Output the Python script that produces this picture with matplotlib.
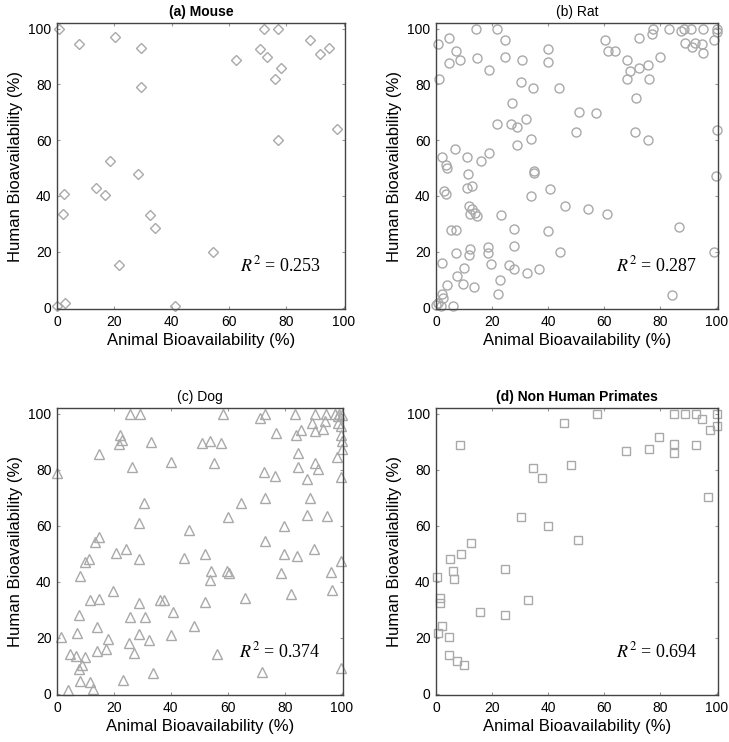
import matplotlib.pyplot as plt

plt.rcParams['font.family'] = ['Liberation Sans', 'DejaVu Sans']
plt.rcParams['mathtext.fontset'] = 'stix'

# (a) Mouse
mouse_x = [0.7, 7.6, 20.4, 29.3, 29.2, 2.3, 2.1, 2.9, 0.1, 13.7, 16.6, 18.5, 28.3, 32.3, 34.1,
           21.5, 41.1, 54.5, 62.3, 70.7, 72.3, 73.4, 77.2, 76.1, 78.2, 77.2, 88.4, 91.8, 94.8, 97.7]
mouse_y = [100, 94.6, 97.0, 93.2, 78.9, 40.7, 33.6, 1.8, 0.6, 42.7, 40.2, 52.7, 47.9, 33.3, 28.7,
           15.2, 0.6, 19.9, 88.9, 92.6, 100, 89.9, 100, 82.0, 86.0, 59.9, 95.8, 91.0, 92.9, 63.9]

# (b) Rat
rat_x = [0.8, 4.6, 1.2, 4.8, 7.1, 8.7, 14.1, 14.6, 18.9, 21.9, 24.7, 24.7, 30.6, 30.3, 34.7,
         27.1, 21.6, 26.8, 28.7, 31.9, 33.8, 28.7, 43.8, 40.0, 40.0, 51.0, 56.9, 49.9, 60.2, 61.4,
         63.8, 67.9, 67.9, 69.1, 72.4, 72.2, 71.3, 71.0, 75.5, 79.8, 75.9, 77.4, 77.0, 83.0, 87.2,
         88.4, 90.9, 95.2, 100, 100, 88.7, 92.3, 91.1, 94.7, 95.2, 99.0, 100, 75.7, 99.8, 99.0,
         84.0, 86.5,
         2.0, 6.9, 3.6, 3.8, 10.9, 11.5, 12.7, 10.9, 19.0, 15.9, 2.9, 3.6, 5.5, 7.1, 11.6,
         12.7, 13.9, 14.5, 12.0, 23.0, 34.9, 35.0, 33.8, 40.7, 45.8, 54.2, 60.9, 40.0, 27.8, 27.7,
         7.0, 12.2, 11.9, 18.6, 18.6, 19.7, 9.9, 13.5, 9.7, 4.0, 2.1, 7.6, 26.1, 27.8, 32.3,
         36.8, 44.2, 22.9, 22.1, 2.1, 2.6, 0.6, 1.9, 6.2, 0.0]
rat_y = [94.6, 96.8, 82.1, 87.5, 92.0, 88.9, 100, 89.3, 85.1, 100, 95.8, 89.9, 88.9, 80.8, 78.8,
         73.5, 65.8, 65.8, 64.8, 67.7, 60.4, 58.1, 78.7, 92.7, 88.1, 70.2, 69.9, 62.9, 95.8, 92.0,
         92.0, 88.9, 81.9, 84.9, 86.0, 96.8, 75.1, 62.9, 86.9, 89.9, 81.9, 100, 98.2, 100, 99.2,
         100, 100, 100, 100, 98.6, 94.8, 95.0, 93.3, 94.3, 91.1, 95.8, 63.8, 59.9, 47.0, 19.9,
         4.5, 28.8,
         53.9, 56.8, 51.2, 50.0, 53.8, 47.9, 43.5, 42.9, 55.4, 52.7, 41.7, 40.7, 27.7, 27.7, 36.3,
         35.4, 33.8, 32.7, 33.6, 33.1, 48.8, 48.2, 40.1, 42.5, 36.5, 35.5, 33.7, 27.4, 28.2, 21.9,
         19.6, 21.0, 18.8, 21.8, 19.6, 15.5, 14.3, 7.5, 8.3, 8.1, 16.1, 11.5, 15.1, 13.8, 12.3,
         13.7, 19.9, 9.8, 5.0, 4.8, 3.6, 1.5, 0.4, 0.4, 0.8]

# (c) Dog
dog_x = [0, 1.5, 3.9, 4.5, 6.6, 6.9, 7.8, 8.0, 7.8, 8.0, 8.9, 9.8, 9.7, 11.1, 11.6, 11.6, 12.5,
         13.4, 14.9, 14.9, 14.2, 14.0, 14.6, 17.3, 17.8, 19.6, 20.8, 22.0, 21.9, 22.8, 24.1, 25.2,
         23.2, 25.8, 29.3, 26.3, 28.7, 28.7, 25.8, 28.9, 28.9, 27.2, 30.5, 30.8, 32.2, 33.0, 33.8,
         36.2, 37.6, 40.0, 40.9, 40.0, 44.7, 46.5, 48.3, 50.9, 53.9, 57.7, 55.1, 58.3, 52.1, 52.1,
         54.2, 53.8, 59.8, 60.6, 56.3, 60.1, 64.6, 66.0, 71.2, 73.1, 72.9, 73.1, 73.1, 72.0, 76.9,
         76.7, 78.8, 79.8, 79.8, 82.4, 83.8, 84.0, 84.7, 84.6, 85.6, 87.8, 87.8, 88.8, 84.5, 89.7,
         90.7, 90.7, 90.7, 91.8, 90.3, 93.3, 94.0, 94.5, 95.0, 96.2, 96.8, 97.8, 98.6, 99.2, 99.8,
         99.8, 100, 100, 98.3, 99.8, 99.8, 99.8, 98.9, 100]
dog_y = [78.9, 20.2, 1.2, 14.2, 13.4, 21.8, 27.9, 41.9, 8.7, 4.4, 10.1, 13.0, 47.1, 48.0, 33.6,
         4.2, 1.8, 54.0, 55.8, 33.8, 23.7, 15.1, 85.4, 15.8, 19.6, 36.8, 50.2, 92.5, 89.0, 90.7,
         51.8, 17.9, 4.7, 100, 100, 81.0, 61.1, 48.0, 27.5, 32.4, 21.2, 14.6, 68.2, 27.5, 19.1,
         90.0, 7.5, 33.6, 33.6, 82.6, 29.1, 20.8, 48.3, 58.4, 24.1, 89.4, 90.2, 89.4, 82.5, 100,
         49.8, 32.6, 43.7, 40.6, 43.9, 43.1, 14.1, 63.1, 68.0, 34.2, 98.5, 100, 79.1, 69.9, 54.4,
         7.8, 93.1, 77.7, 43.1, 60.0, 49.9, 35.6, 100, 92.3, 86.0, 81.0, 94.3, 76.8, 63.8, 69.9,
         49.0, 96.7, 100, 93.7, 82.2, 80.1, 51.8, 94.5, 97.5, 100, 63.4, 43.5, 37.1, 100, 96.7,
         100, 95.5, 92.5, 90.2, 87.2, 84.6, 77.2, 47.5, 9.1, 99.0, 99.6]

# (d) Non Human Primates
nhp_x = [0.5, 0.8, 1.4, 1.4, 2.3, 4.5, 4.5, 7.6, 10.1, 5.0, 6.2, 6.3, 8.9, 12.6, 8.6, 15.7,
         24.7, 24.7, 30.3, 32.9, 34.6, 37.8, 39.9, 45.7, 48.2, 50.6, 57.2, 67.7, 75.8, 79.6,
         84.7, 84.7, 84.7, 88.8, 92.6, 92.5, 94.7, 97.6, 100, 100, 96.8]
nhp_y = [41.7, 21.7, 34.0, 32.5, 24.0, 20.2, 13.8, 11.8, 10.2, 47.9, 43.8, 40.8, 49.9, 53.8, 88.8,
         29.0, 44.6, 28.0, 63.0, 33.4, 80.7, 77.0, 59.8, 96.7, 81.7, 54.8, 99.8, 86.7, 87.2, 91.7,
         99.8, 89.0, 85.8, 99.8, 99.8, 88.8, 97.9, 94.1, 99.8, 95.6, 70.1]

titles = ['(a) Mouse', '(b) Rat', '(c) Dog', '(d) Non Human Primates']
title_weights = ['bold', 'normal', 'normal', 'bold']
r2_values = ['0.253', '0.287', '0.374', '0.694']
markers = ['D', 'o', '^', 's']
marker_sizes = [5.5, 6.5, 7.5, 5.5]
datasets = [(mouse_x, mouse_y), (rat_x, rat_y), (dog_x, dog_y), (nhp_x, nhp_y)]

W, H = 729, 742
fig = plt.figure(figsize=(W / 100, H / 100), dpi=100)

# axes boxes in pixels: left, top, right, bottom
boxes = [(57, 23, 345, 309), (436, 23, 718, 309),
         (57, 408, 343, 695), (436, 408, 718, 695)]

gray = '#a9a9a9'
for i, (l, t, r, b) in enumerate(boxes):
    ax = fig.add_axes([l / W, 1 - b / H, (r - l) / W, (b - t) / H])
    x, y = datasets[i]
    ax.plot(x, y, ls='none', marker=markers[i], mfc='none', mec=gray, mew=1.0,
            ms=marker_sizes[i], clip_on=False)
    ax.set_xlim(0, 100.5)
    ax.set_ylim(-0.5, 102)
    ax.set_xticks([0, 20, 40, 60, 80, 100])
    ax.set_yticks([0, 20, 40, 60, 80, 100])
    ax.tick_params(direction='in', length=2, width=0.8, color='#999999', labelsize=10,
                   top=True, right=True, pad=4)
    for s in ax.spines.values():
        s.set_color('#444444')
        s.set_linewidth(1.0)
    ax.set_title(titles[i], fontsize=10, fontweight=title_weights[i], pad=5)
    ax.set_xlabel('Animal Bioavailability (%)', fontsize=12, labelpad=3)
    ax.set_ylabel('Human Bioavailability (%)', fontsize=12, labelpad=4)
    ax.text(64, 13, r'$R^2$ = ' + r2_values[i], fontsize=13, family='Liberation Serif')

plt.savefig('out.png', dpi=100)
